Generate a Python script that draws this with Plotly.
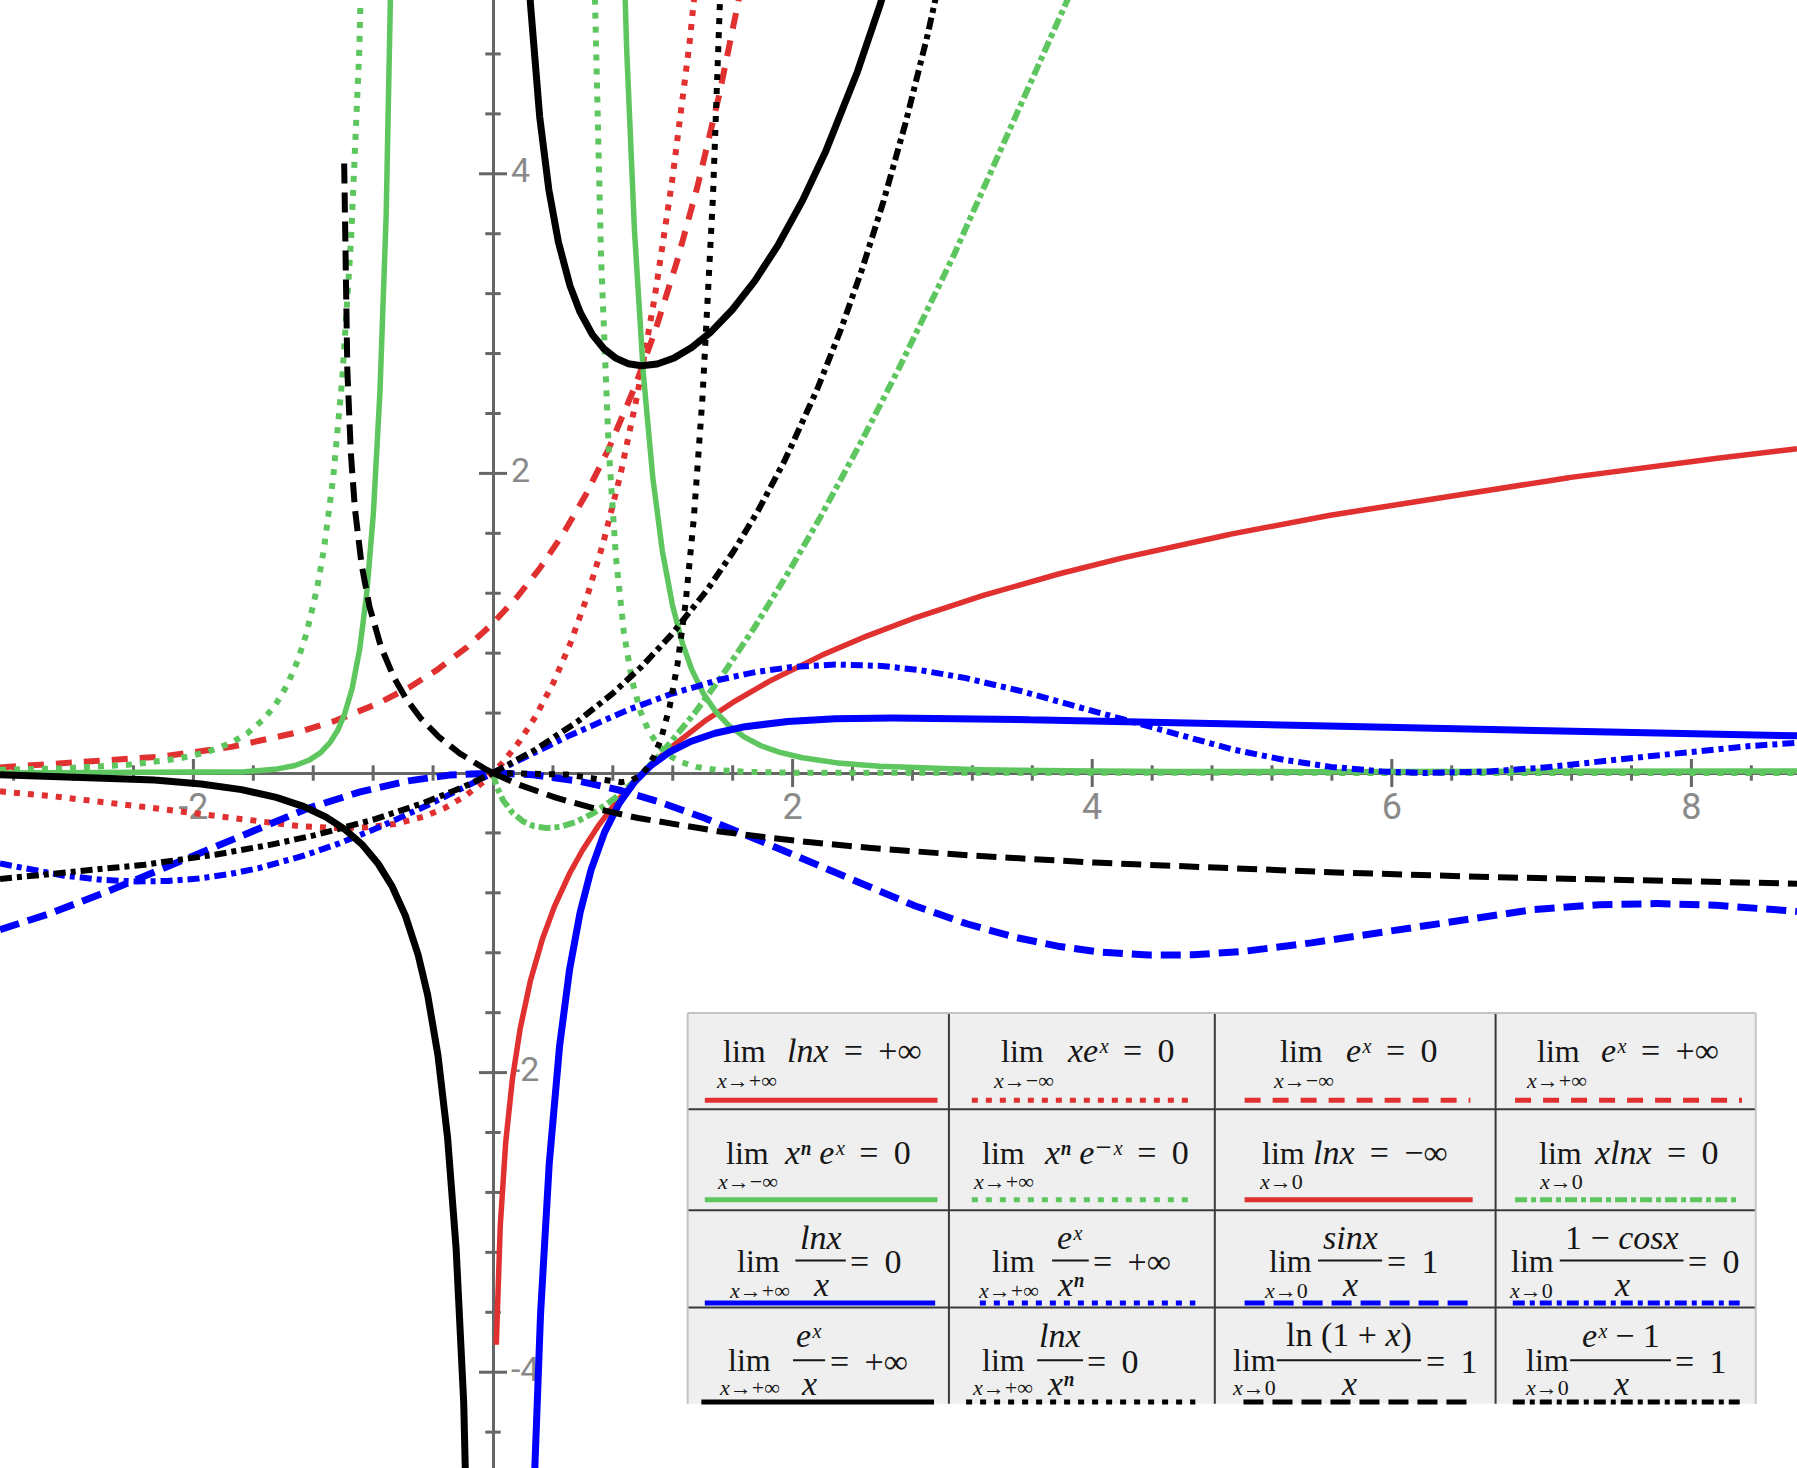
import numpy as np
import plotly.graph_objects as go

# ---------------- figure geometry ----------------
W, H = 1797, 1468
UNIT = 149.8                 # pixels per unit (equal aspect)
ORIGIN_PX = (493, 773)
X_RANGE = [-ORIGIN_PX[0] / UNIT, (W - ORIGIN_PX[0]) / UNIT]
Y_RANGE = [-(H - ORIGIN_PX[1]) / UNIT, ORIGIN_PX[1] / UNIT]

# ---------------- data ----------------
n_exponent = -6               # the "n" used for the x^n curves
x_major_ticks = [-2, 2, 4, 6, 8]
x_major_labels = ["-2", "2", "4", "6", "8"]
y_major_ticks = [-4, -2, 2, 4]
y_major_labels = ["-4", "-2", "2", "4"]
minor_tick_step = 0.4

# curve definitions: key -> function of x
curve_funcs = {
    "ln x": lambda x: np.log(x),
    "x e^x": lambda x: x * np.exp(x),
    "e^x": lambda x: np.exp(x),
    "x^n e^x": lambda x: x ** float(n_exponent) * np.exp(x),
    "x^n e^-x": lambda x: x ** float(n_exponent) * np.exp(-x),
    "x ln x": lambda x: x * np.log(x),
    "ln x / x": lambda x: np.log(x) / x,
    "sin x / x - 1": lambda x: np.sinc(x / np.pi) - 1,
    "(1 - cos x) / x": lambda x: (1 - np.cos(x)) / x,
    "e^x / x": lambda x: np.exp(x) / x,
    "ln x / x^n": lambda x: np.log(x) / x ** float(n_exponent),
    "ln(1+x) / x - 1": lambda x: np.log1p(x) / x - 1,
    "(e^x - 1) / x - 1": lambda x: np.expm1(x) / x - 1,
}
xmin, xmax = X_RANGE
curve_domains = {
    "ln x": [(0.022, xmax)],
    "x e^x": [(xmin, xmax)],
    "e^x": [(xmin, xmax)],
    "x^n e^x": [(xmin, -1e-3), (1e-3, xmax)],
    "x^n e^-x": [(xmin, -1e-3), (1e-3, xmax)],
    "x ln x": [(1e-5, xmax)],
    "ln x / x": [(0.05, xmax)],
    "sin x / x - 1": [(xmin, xmax)],
    "(1 - cos x) / x": [(xmin, -1e-6), (1e-6, xmax)],
    "e^x / x": [(xmin, -0.01), (0.01, xmax)],
    "ln x / x^n": [(1e-4, xmax)],
    "ln(1+x) / x - 1": [(-0.9935, -1e-6), (1e-6, xmax)],
    "(e^x - 1) / x - 1": [(xmin, -1e-6), (1e-6, xmax)],
}

# ---------------- styles ----------------
RED, GREEN, BLUE, BLACK = "#e0302f", "#5ec65e", "#0000ff", "#000000"
STY = {
    "red_solid": dict(color=RED, dash="solid", width=5.5),
    "red_dot": dict(color=RED, dash="6px,8px", width=6),
    "red_dash": dict(color=RED, dash="16px,12px", width=6),
    "green_solid": dict(color=GREEN, dash="solid", width=5.5),
    "green_dot": dict(color=GREEN, dash="6px,8px", width=6),
    "green_dashdot": dict(color=GREEN, dash="12px,4px,5px,4px", width=6),
    "blue_solid": dict(color=BLUE, dash="solid", width=7),
    "blue_dot": dict(color=BLUE, dash="6px,8px", width=6),
    "blue_dash": dict(color=BLUE, dash="20px,9px", width=7),
    "blue_dashdot": dict(color=BLUE, dash="12px,5px,5px,5px", width=6),
    "black_solid": dict(color=BLACK, dash="solid", width=7),
    "black_dot": dict(color=BLACK, dash="6px,8px", width=6),
    "black_dash": dict(color=BLACK, dash="20px,9px", width=6),
    "black_dashdot": dict(color=BLACK, dash="12px,5px,5px,5px", width=6),
}
curve_styles = {
    "ln x": "red_solid", "x e^x": "red_dot", "e^x": "red_dash",
    "x^n e^x": "green_solid", "x^n e^-x": "green_dot", "x ln x": "green_dashdot",
    "ln x / x": "blue_solid", "sin x / x - 1": "blue_dash", "(1 - cos x) / x": "blue_dashdot",
    "e^x / x": "black_solid", "ln x / x^n": "black_dot",
    "ln(1+x) / x - 1": "black_dash", "(e^x - 1) / x - 1": "black_dashdot",
}

AXIS_COLOR = "#666666"
LABEL_COLOR = "#8a8a8a"
TICK_FONT = "Liberation Sans Narrow, Arial Narrow, Roboto, sans-serif"
SERIF = "Liberation Serif, DejaVu Serif, Times New Roman, serif"

fig = go.Figure()

# ---------------- axis ticks (crossing marks) ----------------
def minor_positions(lo, hi, majors):
    vals = []
    k = int(np.ceil(lo / minor_tick_step))
    while k * minor_tick_step <= hi:
        v = round(k * minor_tick_step, 2)
        if abs(v) > 1e-9 and all(abs(v - m) > 1e-9 for m in majors):
            vals.append(v)
        k += 1
    return vals

xm = minor_positions(X_RANGE[0], X_RANGE[1], x_major_ticks)
ym = minor_positions(Y_RANGE[0], Y_RANGE[1], y_major_ticks)

tick_line = dict(color=AXIS_COLOR, width=3)
fig.add_trace(go.Scatter(x=xm, y=[0] * len(xm), mode="markers", hoverinfo="skip",
                         marker=dict(symbol="line-ns", size=11, line=tick_line), showlegend=False))
fig.add_trace(go.Scatter(x=x_major_ticks, y=[0] * len(x_major_ticks), mode="markers", hoverinfo="skip",
                         marker=dict(symbol="line-ns", size=20, line=tick_line), showlegend=False))
fig.add_trace(go.Scatter(x=[0] * len(ym), y=ym, mode="markers", hoverinfo="skip",
                         marker=dict(symbol="line-ew", size=11, line=tick_line), showlegend=False))
fig.add_trace(go.Scatter(x=[0] * len(y_major_ticks), y=y_major_ticks, mode="markers", hoverinfo="skip",
                         marker=dict(symbol="line-ew", size=20, line=tick_line), showlegend=False))

# tick labels
fig.add_trace(go.Scatter(x=x_major_ticks, y=[-0.25] * len(x_major_ticks), mode="text",
                         text=x_major_labels, textposition="middle center", hoverinfo="skip",
                         textfont=dict(family=TICK_FONT, size=36, color=LABEL_COLOR), showlegend=False))
fig.add_trace(go.Scatter(x=[0.12] * len(y_major_ticks), y=y_major_ticks, mode="text",
                         text=y_major_labels, textposition="middle right", hoverinfo="skip",
                         textfont=dict(family=TICK_FONT, size=34, color=LABEL_COLOR), showlegend=False))

# ---------------- curves ----------------
CLIP = 40
for key, func in curve_funcs.items():
    sty = STY[curve_styles[key]]
    for (a, b) in curve_domains[key]:
        xs = np.linspace(a, b, 6000)
        with np.errstate(all="ignore"):
            ys = func(xs)
        ys = np.clip(ys, -CLIP, CLIP)
        fig.add_trace(go.Scatter(x=xs, y=ys, mode="lines", hoverinfo="skip", showlegend=False,
                                 line=dict(color=sty["color"], dash=sty["dash"], width=sty["width"])))

# ---------------- legend table (as an image-like panel) ----------------
# coordinates below are in the 1568x1281 reference frame
def PX(xs):
    return xs / 1568.0

def PY(ys):
    return 1 - ys / 1281.0

shapes, annotations = [], []
TAB_X = [600, 828, 1060, 1305, 1532]
TAB_Y = [884, 968, 1056, 1141, 1225]

shapes.append(dict(type="rect", xref="paper", yref="paper", layer="above",
                   x0=PX(TAB_X[0]), x1=PX(TAB_X[-1]), y0=PY(TAB_Y[0]), y1=PY(TAB_Y[-1]),
                   fillcolor="#efefef", line=dict(width=0)))
for yv in TAB_Y[1:4]:
    shapes.append(dict(type="line", xref="paper", yref="paper", layer="above",
                       x0=PX(TAB_X[0]), x1=PX(TAB_X[-1]), y0=PY(yv), y1=PY(yv),
                       line=dict(color="#3a3a3a", width=2)))
for xv in TAB_X[1:4]:
    shapes.append(dict(type="line", xref="paper", yref="paper", layer="above",
                       x0=PX(xv), x1=PX(xv), y0=PY(TAB_Y[0]), y1=PY(TAB_Y[-1]),
                       line=dict(color="#3a3a3a", width=2)))
for (x0, y0, x1, y1) in [(TAB_X[0], TAB_Y[0], TAB_X[-1], TAB_Y[0]),
                         (TAB_X[0], TAB_Y[0], TAB_X[0], TAB_Y[-1]),
                         (TAB_X[-1], TAB_Y[0], TAB_X[-1], TAB_Y[-1])]:
    shapes.append(dict(type="line", xref="paper", yref="paper", layer="above",
                       x0=PX(x0), x1=PX(x1), y0=PY(y0), y1=PY(y1),
                       line=dict(color="#c4c4c4", width=2)))

LIM_SIZE = 32
BODY_SIZE = 34
SUB_SIZE = 22
INK = "#161616"

def ann(text, xs, ys, size, xanchor="center"):
    annotations.append(dict(text=text, x=PX(xs), y=PY(ys), xref="paper", yref="paper",
                            xanchor=xanchor, yanchor="middle", showarrow=False, borderpad=0,
                            font=dict(family=SERIF, size=size, color=INK)))

NB = "\u00a0"
TS = "\u2009"
EQ = TS + NB + "=" + NB + TS
SX, SN, SM = "\u02e3", "\u207f", "\u207b"     # superscript x, n, minus

# legend content
legend_sub = [["<i>x</i>→+∞", "<i>x</i>→−∞", "<i>x</i>→−∞", "<i>x</i>→+∞"],
              ["<i>x</i>→−∞", "<i>x</i>→+∞", "<i>x</i>→0", "<i>x</i>→0"],
              ["<i>x</i>→+∞", "<i>x</i>→+∞", "<i>x</i>→0", "<i>x</i>→0"],
              ["<i>x</i>→+∞", "<i>x</i>→+∞", "<i>x</i>→0", "<i>x</i>→0"]]
legend_inline = [["<i>lnx</i>" + EQ + "+∞", "<i>xe" + SX + "</i>" + EQ + "0",
                  "<i>e" + SX + "</i>" + EQ + "0", "<i>e" + SX + "</i>" + EQ + "+∞"],
                 ["<i>x" + SN + "</i>" + NB + "<i>e" + SX + "</i>" + EQ + "0",
                  "<i>x" + SN + "</i>" + NB + "<i>e" + SM + SX + "</i>" + EQ + "0",
                  "<i>lnx</i>" + EQ + "−∞", "<i>xlnx</i>" + EQ + "0"]]
legend_num = [["<i>lnx</i>", "<i>e" + SX + "</i>", "<i>sinx</i>", "1" + NB + "−" + NB + "<i>cosx</i>"],
              ["<i>e" + SX + "</i>", "<i>lnx</i>", "ln" + NB + "(1" + NB + "+" + NB + "<i>x</i>)",
               "<i>e" + SX + "</i>" + NB + "−" + NB + "1"]]
legend_den = [["<i>x</i>", "<i>x" + SN + "</i>", "<i>x</i>", "<i>x</i>"],
              ["<i>x</i>", "<i>x" + SN + "</i>", "<i>x</i>", "<i>x</i>"]]
legend_rhs = [["0", "+∞", "1", "0"],
              ["+∞", "0", "1", "1"]]
legend_style = [["red_solid", "red_dot", "red_dash", "red_dash"],
                ["green_solid", "green_dot", "red_solid", "green_dashdot"],
                ["blue_solid", "blue_dot", "blue_dash", "blue_dashdot"],
                ["black_solid", "black_dot", "black_dash", "black_dashdot"]]

# layout of each cell (reference-frame positions)
row_lim_y = [917, 1006, 1100, 1187]
row_sub_y = [943, 1031, 1126, 1211]
row_sample_y = [960, 1047, 1137, 1223.5]
row_num_y = [1080, 1165]
row_bar_y = [1100, 1187]
row_den_y = [1121, 1207]
lim_x = [[650, 892, 1136, 1360], [652, 876, 1120, 1362], [662, 884, 1126, 1337], [654, 876, 1095, 1350]]
sub_x = [[651, 893, 1137, 1358], [652, 876, 1118, 1362], [663, 880, 1122, 1336], [654, 875, 1094, 1350]]
body_x = [[686, 930, 1174, 1396], [683, 910, 1145, 1390]]
frac_cx = [[716, 934, 1178, 1415], [706, 925, 1177, 1414]]
frac_hw = [[22, 16, 28, 54], [14, 20, 63, 44]]

sample_x = [[(615, 818), (848, 1043), (1086, 1283), (1322, 1520)],
            [(615, 818), (848, 1043), (1086, 1285), (1322, 1518)],
            [(615, 816), (855, 1043), (1086, 1283), (1320, 1518)],
            [(612, 815), (843, 1043), (1085, 1283), (1320, 1518)]]

for r in range(4):
    for c in range(4):
        ann("lim", lim_x[r][c], row_lim_y[r], LIM_SIZE)
        ann(legend_sub[r][c], sub_x[r][c], row_sub_y[r], SUB_SIZE)
        if r < 2:
            ann(legend_inline[r][c], body_x[r][c], row_lim_y[r], BODY_SIZE, xanchor="left")
        else:
            k = r - 2
            cx, hw = frac_cx[k][c], frac_hw[k][c]
            ann(legend_num[k][c], cx, row_num_y[k], BODY_SIZE)
            ann(legend_den[k][c], cx, row_den_y[k], BODY_SIZE)
            shapes.append(dict(type="line", xref="paper", yref="paper", layer="above",
                               x0=PX(cx - hw), x1=PX(cx + hw), y0=PY(row_bar_y[k]), y1=PY(row_bar_y[k]),
                               line=dict(color=INK, width=2)))
            ann("=" + NB + TS + legend_rhs[k][c], cx + hw + 3, row_lim_y[r] + 1, BODY_SIZE, xanchor="left")
        sty = STY[legend_style[r][c]]
        x0, x1 = sample_x[r][c]
        shapes.append(dict(type="line", xref="paper", yref="paper", layer="above",
                           x0=PX(x0), x1=PX(x1), y0=PY(row_sample_y[r]), y1=PY(row_sample_y[r]),
                           line=dict(color=sty["color"], dash=sty["dash"], width=5)))

fig.update_layout(
    width=W, height=H,
    margin=dict(l=0, r=0, t=0, b=0),
    paper_bgcolor="white", plot_bgcolor="white",
    showlegend=False,
    xaxis=dict(range=X_RANGE, showgrid=False, showticklabels=False, ticks="",
               zeroline=True, zerolinecolor=AXIS_COLOR, zerolinewidth=3, showline=False, fixedrange=True),
    yaxis=dict(range=Y_RANGE, showgrid=False, showticklabels=False, ticks="",
               zeroline=True, zerolinecolor=AXIS_COLOR, zerolinewidth=3, showline=False, fixedrange=True),
    shapes=shapes,
    annotations=annotations,
)

fig.write_html("out.html", config={"displayModeBar": False},
               post_script="document.body.style.margin='0';document.body.style.padding='0';")
